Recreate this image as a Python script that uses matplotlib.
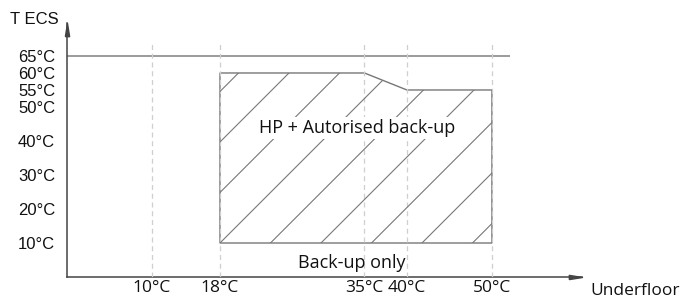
import numpy as np
import matplotlib
matplotlib.use("Agg")
import matplotlib.pyplot as plt
from matplotlib.patches import Polygon
from matplotlib.path import Path

# ---- data ----
y_ticks = [10, 20, 30, 40, 50, 55, 60, 65]
y_labels = [f"{v}°C" for v in y_ticks]
x_ticks = [10, 18, 35, 40, 50]
x_labels = [f"{v}°C" for v in x_ticks]
zone_x = [18, 18, 35, 40, 50, 50]
zone_y = [10, 60, 60, 55, 55, 10]
max_line_y = 65
max_line_xend = 52.1
zone_label = "HP + Autorised back-up"
below_label = "Back-up only"
x_title = "Underfloor"
y_title = "T ECS"

W, H = 683, 300
fig = plt.figure(figsize=(W / 100, H / 100), dpi=100)
ax = fig.add_axes([67 / W, 23 / H, 515 / W, 254 / H])
xmax, ymax = 60.6, 74.7
ax.set_xlim(0, xmax)
ax.set_ylim(0, ymax)

axis_col = "#444444"
line_col = "#777777"
txt_col = "#111111"
for s in ["top", "right"]:
    ax.spines[s].set_visible(False)
for s in ["left", "bottom"]:
    ax.spines[s].set_color(axis_col)
    ax.spines[s].set_linewidth(1.1)

head_x = Path([(-1, -0.16), (0, 0), (-1, 0.16), (-1, -0.16)])
head_y = Path([(-0.16, -1), (0, 0), (0.16, -1), (-0.16, -1)])
ax.plot(1, 0, marker=head_x, color=axis_col, markersize=19, transform=ax.transAxes, clip_on=False)
ax.plot(0, 1, marker=head_y, color=axis_col, markersize=19, transform=ax.transAxes, clip_on=False)

ax.set_yticks(y_ticks)
ax.set_yticklabels(y_labels, fontfamily="Liberation Sans", fontsize=12)
ax.set_xticks(x_ticks)
ax.set_xticklabels(x_labels, fontfamily="Open Sans", fontsize=12.5)
ax.tick_params(axis="y", length=0, pad=8.5, colors=txt_col)
ax.tick_params(axis="x", length=0, pad=2.5, colors=txt_col)

# 65 line
ax.hlines(max_line_y, 0, max_line_xend, colors="#8a8a8a", linewidth=1.2, zorder=2)

# zone polygon
poly = Polygon(np.column_stack([zone_x, zone_y]), closed=True, facecolor="white",
               edgecolor=line_col, linewidth=1.0, zorder=3)
ax.add_patch(poly)

# dashed verticals (above the zone fill)
ax.vlines(x_ticks, 0, 69, colors="#cfcfcf", linestyles=(0, (4, 3)), linewidth=0.9, zorder=3.5)

# hatch lines (45 deg in pixels, ~50.5 px spacing)
sx = 515 / xmax  # px per x unit
sy = 254 / ymax  # px per y unit
c0 = sx * 18 - sy * 10
for k in range(-6, 12):
    c = c0 + 50.5 * k
    yy = np.array([0, ymax])
    xx = (c + sy * yy) / sx
    ln, = ax.plot(xx, yy, color=line_col, linewidth=0.8, zorder=4)
    ln.set_clip_path(poly)

ax.text(34.1, 43.8, zone_label, ha="center", va="center", fontfamily="Open Sans",
        fontsize=13, color=txt_col, zorder=5,
        bbox=dict(facecolor="white", edgecolor="none", pad=1.5))
ax.text(33.5, 4.2, below_label, ha="center", va="center", fontfamily="Open Sans",
        fontsize=13, color=txt_col, zorder=5)

fig.text(590 / W, 5 / H, x_title, ha="left", va="baseline", fontfamily="Open Sans",
         fontsize=12.5, color=txt_col)
fig.text(10 / W, 1 - 19 / H, y_title, ha="left", va="center", fontfamily="Liberation Sans",
         fontsize=12, color=txt_col)

fig.savefig("out.png", dpi=100)
